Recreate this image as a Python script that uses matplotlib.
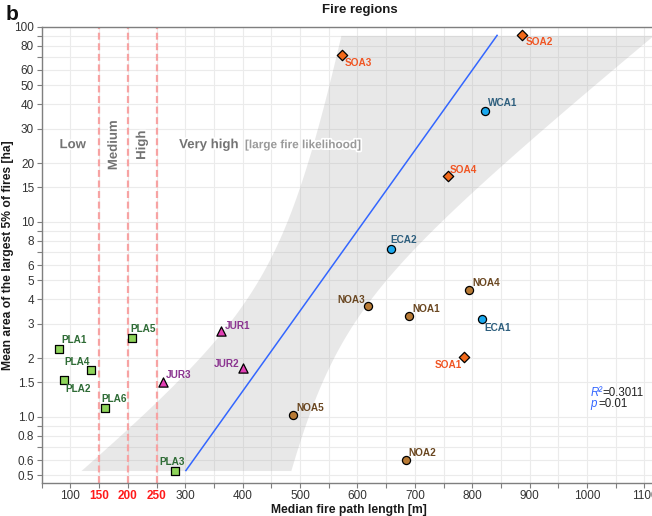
import numpy as np
import matplotlib
matplotlib.use('Agg')
import matplotlib.pyplot as plt
from matplotlib import patheffects as pe
from matplotlib.ticker import FixedLocator, NullFormatter

plt.rcParams['font.family'] = ['Liberation Sans', 'DejaVu Sans']
plt.rcParams['lines.scale_dashes'] = False

# Fire regions: median fire path length [m] vs mean area of largest 5% of fires [ha]
regions = ['PLA1', 'PLA2', 'PLA3', 'PLA4', 'PLA5', 'PLA6',
           'JUR1', 'JUR2', 'JUR3',
           'NOA1', 'NOA2', 'NOA3', 'NOA4', 'NOA5',
           'ECA1', 'ECA2', 'WCA1',
           'SOA1', 'SOA2', 'SOA3', 'SOA4']
path_len = [80, 88, 283, 135, 208, 160,
            362, 401, 261,
            690, 684, 619, 795, 488,
            817, 658, 822,
            785, 887, 573, 757]
area = [2.22, 1.54, 0.53, 1.73, 2.53, 1.11,
        2.75, 1.77, 1.51,
        3.28, 0.60, 3.71, 4.48, 1.02,
        3.17, 7.22, 37.1,
        2.02, 90.3, 71.3, 17.2]

thresholds = [150, 200, 250]
r2_text = '=0.3011'
p_text = '=0.01'

xticks = [100, 150, 200, 250, 300, 400, 500, 600, 700, 800, 900, 1000, 1100]
xminor = [50, 350, 450, 550, 650, 750, 850, 950, 1050]
yticks = [0.5, 0.6, 0.8, 1.0, 1.5, 2, 3, 4, 5, 6, 8, 10, 15, 20, 30, 40, 50, 60, 80, 100]
ylabels = ['0.5', '0.6', '0.8', '1.0', '1.5', '2', '3', '4', '5', '6', '8',
           '10', '15', '20', '30', '40', '50', '60', '80', '100']
yminor = [0.7, 0.9, 7, 9, 70, 90]

style = {
    'PLA': dict(marker='s', fc='#8ED45A', tc='#2E6B35', s=32),
    'JUR': dict(marker='^', fc='#E23FB4', tc='#8B3490', s=44),
    'NOA': dict(marker='o', fc='#B87A35', tc='#6A4721', s=34),
    'ECA': dict(marker='o', fc='#1AA8EE', tc='#2E5F7E', s=34),
    'WCA': dict(marker='o', fc='#1AA8EE', tc='#2E5F7E', s=34),
    'SOA': dict(marker='D', fc='#F26A1B', tc='#F05523', s=28),
}

# label offsets in pixels (dx, dy) and alignment
label_pos = {
    'PLA1': (2, 9, 'left'), 'PLA2': (2, -9, 'left'), 'PLA3': (-3, 9, 'center'),
    'PLA4': (-1, 8, 'right'), 'PLA5': (-2, 9, 'left'), 'PLA6': (-3, 9, 'left'),
    'JUR1': (4, 5, 'left'), 'JUR2': (-4, 4, 'right'), 'JUR3': (3, 7, 'left'),
    'NOA1': (3, 7, 'left'), 'NOA2': (3, 7, 'left'), 'NOA3': (-3, 6, 'right'),
    'NOA4': (3, 7, 'left'), 'NOA5': (3, 7, 'left'),
    'ECA1': (2, -9, 'left'), 'ECA2': (0, 9, 'left'), 'WCA1': (3, 8, 'left'),
    'SOA1': (-2, -8, 'right'), 'SOA2': (4, -7, 'left'), 'SOA3': (3, -8, 'left'),
    'SOA4': (2, 6, 'left'),
}

fig = plt.figure(figsize=(6.52, 5.16), dpi=100)
ax = fig.add_axes([0.064, 0.0645, 0.942, 0.8837])
ax.set_yscale('log')
ax.set_xlim(50, 1120)
ax.set_ylim(0.459, 100)

# linear fit of path length on log10(area) with 95% confidence band
x = np.array(path_len, dtype=float)
ly = np.log10(area)
b, a = np.polyfit(ly, x, 1)
n = len(x)
resid = x - (a + b * ly)
s = np.sqrt(np.sum(resid ** 2) / (n - 2))
syy = np.sum((ly - ly.mean()) ** 2)
t = 2.093
g = np.linspace(ly.min(), ly.max(), 300)
fit = a + b * g
half = t * s * np.sqrt(1 / n + (g - ly.mean()) ** 2 / syy)
ax.fill_betweenx(10 ** g, fit - half, fit + half, color='#999999', alpha=0.22, lw=0, zorder=1)
ax.plot(fit, 10 ** g, color='#3366FF', lw=1.1, zorder=2)

for th in thresholds:
    ax.axvline(th, color='#F7A3A3', lw=1.6, ls=(0, (5, 2.6)), zorder=1.5)

for name, xv, yv in zip(regions, path_len, area):
    st = style[name[:3]]
    ax.scatter(xv, yv, marker=st['marker'], s=st['s'], facecolor=st['fc'],
               edgecolor='black', linewidth=0.9, zorder=4)
    dx, dy, ha = label_pos[name]
    ax.annotate(name, (xv, yv), xytext=(dx, dy), textcoords='offset pixels',
                ha=ha, va='center', fontsize=7.2, fontweight='bold', color=st['tc'],
                zorder=5)

halo = [pe.withStroke(linewidth=2.5, foreground='white')]
zy = 24.7
ax.text(104, zy, 'Low', ha='center', va='center', fontsize=9.5, fontweight='bold',
        color='#737373', path_effects=halo, zorder=3)
ax.text(175.6, zy, 'Medium', ha='center', va='center', rotation=90, fontsize=9.5,
        fontweight='bold', color='#737373', path_effects=halo, zorder=3)
ax.text(225, zy, 'High', ha='center', va='center', rotation=90, fontsize=9.5,
        fontweight='bold', color='#737373', path_effects=halo, zorder=3)
ax.text(289.4, zy, 'Very high', ha='left', va='center', fontsize=9.5,
        fontweight='bold', color='#737373', path_effects=halo, zorder=3)
ax.text(404, zy, '[large fire likelihood]', ha='left', va='center', fontsize=8.5,
        fontweight='bold', color='#9a9a9a', path_effects=halo, zorder=3)

ax.text(1006, 1.318, 'R²', ha='left', va='center', fontsize=8.3, style='italic',
        color='#3366FF', zorder=5)
ax.text(1027, 1.318, r2_text, ha='left', va='center', fontsize=8.3, color='#222222', zorder=5)
ax.text(1006, 1.161, 'p', ha='left', va='center', fontsize=8.3, style='italic',
        color='#3366FF', zorder=5)
ax.text(1019, 1.161, p_text, ha='left', va='center', fontsize=8.3, color='#222222', zorder=5)

# ticks and grid
ax.xaxis.set_major_locator(FixedLocator(xticks))
ax.xaxis.set_minor_locator(FixedLocator(xminor))
ax.set_xticklabels([str(v) for v in xticks])
ax.xaxis.set_minor_formatter(NullFormatter())
ax.yaxis.set_major_locator(FixedLocator(yticks))
ax.yaxis.set_minor_locator(FixedLocator(yminor))
ax.set_yticklabels(ylabels)
ax.yaxis.set_minor_formatter(NullFormatter())
ax.tick_params(which='both', direction='out', length=3.5, width=0.8, color='#7f7f7f',
               labelsize=8.5, labelcolor='#333333', pad=2)
for lab in ax.get_xticklabels():
    if int(lab.get_text()) in thresholds:
        lab.set_color('#FF1A1A')
        lab.set_fontweight('bold')
ax.grid(which='both', color='#ebebeb', lw=0.8, zorder=0)
ax.set_axisbelow(True)
for sp in ax.spines.values():
    sp.set_color('#7f7f7f')
    sp.set_linewidth(1.0)

ax.set_xlabel('Median fire path length [m]', fontsize=8.7, fontweight='bold', color='#1a1a1a')
ax.xaxis.set_label_coords(0.4995, -0.047)
ax.set_ylabel('Mean area of the largest 5% of fires [ha]', fontsize=8.7,
              fontweight='bold', color='#1a1a1a')
ax.yaxis.set_label_coords(-0.045, 0.5)

fig.text(360 / 652, 1 - 10 / 516, 'Fire regions', ha='center', va='center',
         fontsize=9.5, fontweight='bold', color='#1a1a1a')
fig.text(6 / 652, 1 - 15 / 516, 'b', ha='left', va='center', fontsize=15,
         fontweight='bold', color='#111111')

fig.savefig('out.png', dpi=100)
